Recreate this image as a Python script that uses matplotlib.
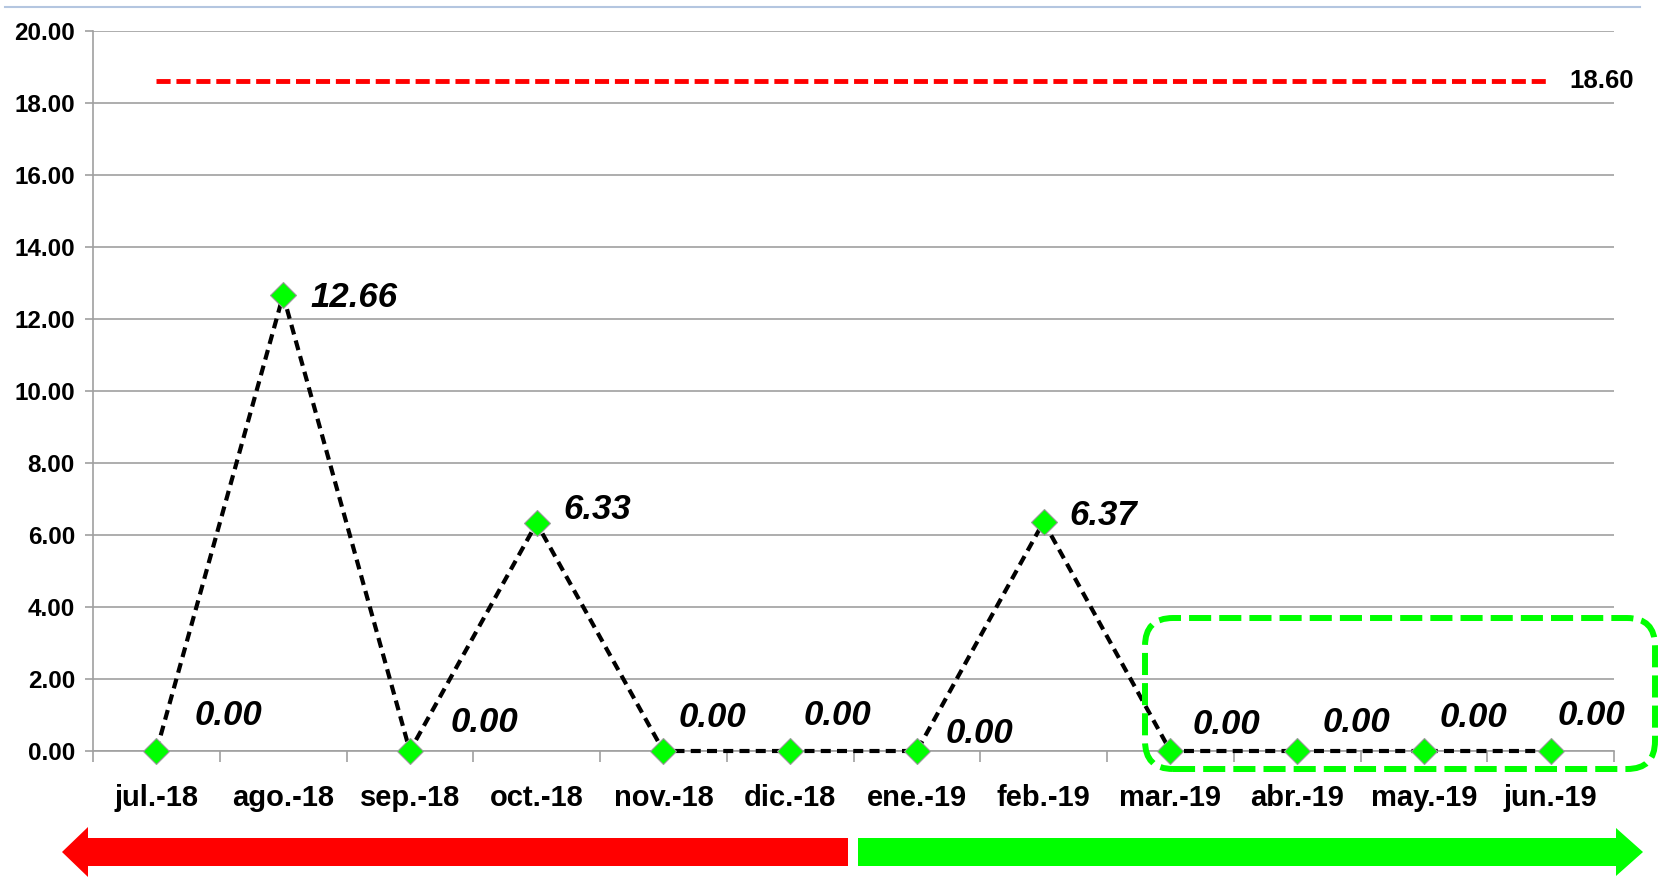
import matplotlib
matplotlib.use("Agg")
import matplotlib.pyplot as plt
from matplotlib.patches import FancyBboxPatch, Polygon
from matplotlib.lines import Line2D

plt.rcParams['font.family'] = ['Liberation Sans', 'DejaVu Sans']

# datos
meses = ['jul.-18', 'ago.-18', 'sep.-18', 'oct.-18', 'nov.-18', 'dic.-18',
         'ene.-19', 'feb.-19', 'mar.-19', 'abr.-19', 'may.-19', 'jun.-19']
valores = [0.00, 12.66, 0.00, 6.33, 0.00, 0.00, 0.00, 6.37, 0.00, 0.00, 0.00, 0.00]
limite = 18.60
y_ticks = [0, 2, 4, 6, 8, 10, 12, 14, 16, 18, 20]

# desplazamiento de las etiquetas (en unidades del eje)
etq_dx = [0.57, 0.56, 0.59, 0.48, 0.39, 0.37, 0.49, 0.47, 0.44, 0.47, 0.39, 0.32]
etq_dy = [0.98, -0.05, 0.8, 0.38, 0.92, 0.98, 0.48, 0.17, 0.75, 0.8, 0.92, 0.98]

W, H = 1663, 877
fig = plt.figure(figsize=(W / 100, H / 100), dpi=100)
ax = fig.add_axes([93 / W, 1 - 751 / H, (1614 - 93) / W, (751 - 31) / H])

x = list(range(len(meses)))
gris = '#A0A0A0'

ax.set_xlim(-0.5, len(meses) - 0.5)
ax.set_ylim(0, 20)
ax.set_yticks(y_ticks)
ax.set_yticklabels(['%.2f' % v for v in y_ticks], fontsize=17.5, fontweight='bold')
ax.set_xticks(x)
ax.set_xticklabels(meses, fontsize=21, fontweight='bold')
ax.set_xticks([i - 0.5 for i in range(len(meses) + 1)], minor=True)
ax.tick_params(axis='x', which='major', length=0, pad=24)
ax.tick_params(axis='x', which='minor', length=8, color=gris, width=1.2, direction='out')
ax.tick_params(axis='y', length=6, color=gris, width=1.2, pad=7)
ax.grid(axis='y', color=gris, lw=1.2)
ax.set_axisbelow(True)
for s in ['top', 'right']:
    ax.spines[s].set_visible(False)
for s in ['left', 'bottom']:
    ax.spines[s].set_color(gris)
    ax.spines[s].set_linewidth(1.2)

# linea limite
ax.plot([x[0], x[-1]], [limite, limite], color='#FF0000', lw=3.5,
        dashes=(2.9, 1.2), zorder=3)
ax.text(11.4, limite, '%.2f' % limite, fontsize=18.5, fontweight='bold',
        ha='center', va='center')

# serie
ax.plot(x, valores, color='black', lw=3, dashes=(2.4, 1.5), zorder=4, clip_on=False)
ax.plot(x, valores, ls='none', marker='D', ms=13.5, mfc='#00FF00', mec='#9A9A9A',
        mew=0.8, zorder=5, clip_on=False)
for i, v in enumerate(valores):
    ax.text(x[i] + etq_dx[i], v + etq_dy[i], '%.2f' % v, fontsize=25,
            fontweight='bold', style='italic', ha='center', va='center', zorder=6)

# recuadro verde
tr = fig.dpi_scale_trans
caja = FancyBboxPatch((11.45, (H - 769) / 100), 5.10, (769 - 618) / 100,
                      boxstyle='round,pad=0,rounding_size=0.28', transform=tr,
                      fill=False, ec='#00FF00', lw=4.3, ls=(0, (3.7, 1.35)))
fig.add_artist(caja)

# flechas
def px(p):
    return [(a / 100, (H - b) / 100) for a, b in p]

roja = px([(62, 852), (88, 827), (88, 838), (848, 838), (848, 866),
           (88, 866), (88, 877)])
verde = px([(858, 838), (1616, 838), (1616, 828), (1643, 852), (1616, 876),
            (1616, 866), (858, 866)])
fig.add_artist(Polygon(roja, closed=True, transform=tr, fc='#FF0000', ec='none'))
fig.add_artist(Polygon(verde, closed=True, transform=tr, fc='#00FF00', ec='none'))

# linea azul superior
fig.add_artist(Line2D([5 / W, 1640 / W], [1 - 7 / H, 1 - 7 / H], color='#B4C6E0', lw=1.5))

fig.savefig('out.png', dpi=100)
